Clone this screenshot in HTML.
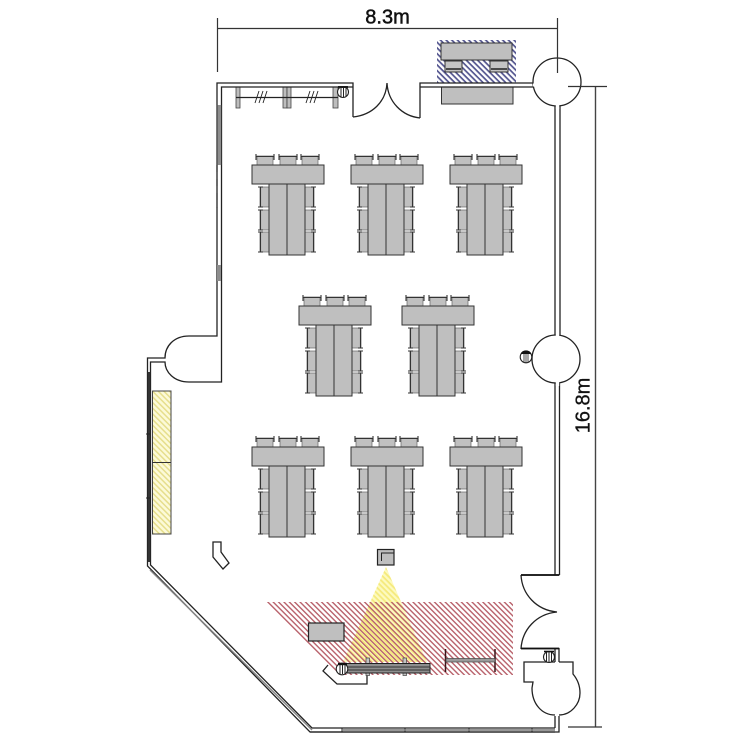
<!DOCTYPE html>
<html>
<head>
<meta charset="utf-8">
<style>
html,body{margin:0;padding:0;background:#fff}
svg{display:block}
text{font-family:"Liberation Sans",sans-serif;fill:#111}
</style>
</head>
<body>
<svg width="750" height="750" viewBox="0 0 750 750" xmlns="http://www.w3.org/2000/svg">
<defs>
<pattern id="red" width="3.800" height="3.800" patternUnits="userSpaceOnUse" patternTransform="rotate(45)">
<rect width="3.800" height="1.400" fill="#b9626c"/>
</pattern>
<pattern id="blue" width="4" height="4" patternUnits="userSpaceOnUse" patternTransform="rotate(45)">
<rect width="4" height="4" fill="#fff"/>
<rect width="4" height="1.700" fill="#53558f"/>
</pattern>
<pattern id="yel" width="4" height="4" patternUnits="userSpaceOnUse" patternTransform="rotate(45)">
<rect width="4" height="4" fill="#fcfad8"/>
<rect width="4" height="1.500" fill="#e6de8c"/>
</pattern>
<pattern id="tri" width="4" height="4" patternUnits="userSpaceOnUse" patternTransform="rotate(45)">
<rect width="4" height="4" fill="#fdfac0"/>
<rect width="4" height="1.800" fill="#f5ea7c"/>
</pattern>
<g id="chairT">
<rect x="1" y="2" width="16" height="9" fill="#c0c0c0" stroke="#666" stroke-width=".7"/>
<path d="M0 0V6M18 0V6M0 2.500H18" fill="none" stroke="#333" stroke-width="1.100"/>
</g>
<g id="chairL">
<rect x="2" y="0" width="9" height="20" fill="#c0c0c0" stroke="#666" stroke-width=".7"/>
<path d="M0 0H5M0 20H5M2.500 0V20" fill="none" stroke="#333" stroke-width="1.100"/>
</g>
<g id="chairR">
<rect x="0" y="0" width="9" height="20" fill="#c0c0c0" stroke="#666" stroke-width=".7"/>
<path d="M6 0H11M6 20H11M8.500 0V20" fill="none" stroke="#333" stroke-width="1.100"/>
</g>
<g id="set">
<use href="#chairT" x="4" y="-11"/>
<use href="#chairT" x="27" y="-11"/>
<use href="#chairT" x="49" y="-11"/>
<use href="#chairL" x="6" y="22"/>
<use href="#chairL" x="6" y="45"/>
<use href="#chairL" x="6" y="67"/>
<use href="#chairR" x="53" y="22"/>
<use href="#chairR" x="53" y="45"/>
<use href="#chairR" x="53" y="67"/>
<rect x="0" y="0" width="72" height="19" fill="#bfbfbf" stroke="#333" stroke-width="1"/>
<rect x="17" y="19" width="18" height="71" fill="#bfbfbf" stroke="#333" stroke-width="1"/>
<rect x="35" y="19" width="18" height="71" fill="#bfbfbf" stroke="#333" stroke-width="1"/>
</g>
</defs>

<rect width="750" height="750" fill="#fff"/>

<!-- hatch zones -->
<polygon points="386,567 427,662 343,662" fill="url(#tri)"/>
<polygon points="264,602 513,602 513,675 339,675" fill="url(#red)"/>
<rect x="437" y="40" width="79" height="43" fill="url(#blue)"/>
<rect x="152.500" y="391" width="18.500" height="143" fill="url(#yel)" stroke="#444" stroke-width="1"/>
<path d="M152 462.500H171" stroke="#333" stroke-width="1"/>

<!-- table sets -->
<use href="#set" x="252" y="165"/>
<use href="#set" x="351" y="165"/>
<use href="#set" x="450" y="165"/>
<use href="#set" x="299" y="306"/>
<use href="#set" x="402" y="306"/>
<use href="#set" x="252" y="447"/>
<use href="#set" x="351" y="447"/>
<use href="#set" x="450" y="447"/>

<!-- top furniture -->
<rect x="441" y="43" width="71" height="17" fill="#bfbfbf" stroke="#333" stroke-width="1"/>
<g fill="#c4c4c4" stroke="#333" stroke-width="1">
<rect x="445" y="61" width="17" height="11"/>
<rect x="490" y="61" width="18" height="11"/>
</g>
<path d="M446 69H461M491 69H507" stroke="#222" stroke-width="1.600"/>
<rect x="441.500" y="87" width="71.500" height="17" fill="#bfbfbf" stroke="#333" stroke-width="1"/>

<!-- shelf -->
<g fill="#bdbdbd" stroke="#444" stroke-width=".8">
<rect x="236" y="87" width="4" height="21"/>
<rect x="283" y="87" width="4" height="21"/>
<rect x="287" y="87" width="4" height="21"/>
<rect x="333" y="87" width="5" height="21"/>
</g>
<path d="M236 97.500H338" stroke="#222" stroke-width="1.300"/>
<path d="M255 103L259 91M259 103L263 91M263 103L267 91M306 103L310 91M310 103L314 91M314 103L318 91" stroke="#222" stroke-width=".9"/>
<circle cx="343" cy="92" r="5.500" fill="#fff" stroke="#222" stroke-width="1.100"/>
<path d="M341 87V97M343.500 87V97M346 87V97" stroke="#222" stroke-width="1"/>
<path d="M338 87H348" stroke="#111" stroke-width="2"/>

<!-- walls -->
<g fill="none" stroke="#222" stroke-width="1.300">
<path d="M353 117V83H217V336H189"/>
<path d="M353 87H221.500V382H189"/>
<path d="M189 336C174 336 165 346 165 358H147.500V566L310 732H555"/>
<path d="M189 382C174 382 165 372 165 362H150.500V565L312 728H555"/>
<path d="M420 118V83H533M420 87H533"/>
<path d="M555 106V336M560 106V336M555 383V575M559.500 383V575"/>
<path d="M521 575H559.500"/>
<path d="M521 648.500H559V662"/>
<path d="M555 648.500V662"/>
<path d="M555 716V728M559 716V732H310"/>
<!-- bump bath -->
<path d="M555 662H524V682H533L532 688C532 704 542 715 555 715M559 662H573V674C578 680 580 686 580 693C580 704 571 715 559 715"/>
<!-- top door -->
<path d="M353 117C372 115 386 102 387 83C388 102 402 116 420 118"/>
<!-- right door -->
<path d="M521 575C522 594 536 610 557 612C536 614 522 630 521 649"/>
<!-- wedge -->
<path d="M213 542H221V552L229 563L223 569L213 557Z"/>
<!-- board tray -->
<path d="M328 665L323 671L337 684H367V675"/>
</g>
<path d="M521 575H559M521 648.500H559" stroke="#111" stroke-width="1.800"/>

<!-- window fills -->
<rect x="217" y="105" width="4" height="60" fill="#8d8d8d"/>
<path d="M217 105V165M221.500 105V165" stroke="#333" stroke-width="1"/>
<path d="M217 165V208" stroke="#555" stroke-width="1.600" stroke-dasharray="7 7"/>
<rect x="217" y="265" width="4" height="16" fill="#8d8d8d"/>
<path d="M149 372V562" stroke="#333" stroke-width="2.400"/>
<path d="M146 434H151M146 498H151" stroke="#222" stroke-width="1"/>
<path d="M150 570L312 730" stroke="#888" stroke-width="1.400"/>
<path d="M342 728V732M405 728V732M469 728V732M532 728V732" stroke="#222" stroke-width="1"/>
<path d="M342 730H555" stroke="#777" stroke-width="1.500"/>

<!-- columns -->
<circle cx="557" cy="82" r="24" fill="#fff" stroke="#222" stroke-width="1.300"/>
<circle cx="556" cy="359" r="24" fill="#fff" stroke="#222" stroke-width="1.300"/>
<path d="M557.500 104V109M557.500 334V338M557.500 380V386" stroke="#fff" stroke-width="3.400"/>
<path d="M533 85H536" stroke="#fff" stroke-width="3"/>

<!-- outlets -->
<circle cx="526" cy="357" r="5.800" fill="#fff" stroke="#222" stroke-width="1.100"/>
<path d="M520.500 354A6 6 0 0 1 531.500 354Z" fill="#111"/>
<path d="M524 354V362M526 354V363M528 354V362" stroke="#222" stroke-width=".8"/>
<circle cx="549" cy="657" r="5.500" fill="#fff" stroke="#222" stroke-width="1.100"/>
<path d="M546.500 652V662M549 652V662M551.500 652V662" stroke="#222" stroke-width="1"/>
<path d="M544 651.500H554" stroke="#111" stroke-width="1.600"/>

<!-- projector -->
<rect x="377.500" y="549.500" width="16.500" height="15.500" fill="#bfbfbf" stroke="#222" stroke-width="1.200"/>
<path d="M381.500 561V553H393.500" fill="none" stroke="#222" stroke-width="1"/>
<rect x="382" y="553.500" width="11" height="7.500" fill="#fff" fill-opacity="0"/>

<!-- gray table -->
<rect x="308.500" y="623" width="35.500" height="18" fill="#bfbfbf" stroke="#222" stroke-width="1.200"/>

<!-- whiteboard -->
<g fill="#c4c4c4" stroke="#444" stroke-width=".7">
<rect x="366" y="658" width="3.500" height="6"/>
<rect x="403" y="658" width="3.500" height="6"/>
<rect x="366" y="672" width="3.500" height="3.500"/>
<rect x="403" y="672" width="3.500" height="3.500"/>
</g>
<rect x="340" y="663.500" width="90" height="9.500" fill="#8e8e8e" stroke="#222" stroke-width="1"/>
<path d="M340 667H430M340 670H430" stroke="#333" stroke-width=".9"/>
<circle cx="342" cy="669" r="5.800" fill="#fff" stroke="#222" stroke-width="1.100"/>
<path d="M340 664V674M342.500 664V674M345 664V674" stroke="#222" stroke-width="1"/>
<path d="M338 664H347" stroke="#111" stroke-width="2.400"/>

<!-- H stand -->
<path d="M445.500 649V672M495 649V672" stroke="#3a1518" stroke-width="1.500"/>
<rect x="446" y="658.500" width="49" height="3.500" fill="#9a9a9a" stroke="#444" stroke-width=".7"/>

<!-- dimensions -->
<g fill="none" stroke="#333" stroke-width="1.200">
<path d="M217.500 18V72M217.500 28.500H557.500M557.500 18V73"/>
<path d="M595.500 86V727" stroke="#444" stroke-width="1.400"/>
<path d="M568 86.500H607M568 727H602"/>
</g>
<text x="387.500" y="23.500" font-size="20" text-anchor="middle" stroke="#111" stroke-width=".5">8.3m</text>
<text transform="translate(589.500,405.500) rotate(-90)" font-size="20" text-anchor="middle" stroke="#111" stroke-width=".3">16.8m</text>
</svg>
</body>
</html>
